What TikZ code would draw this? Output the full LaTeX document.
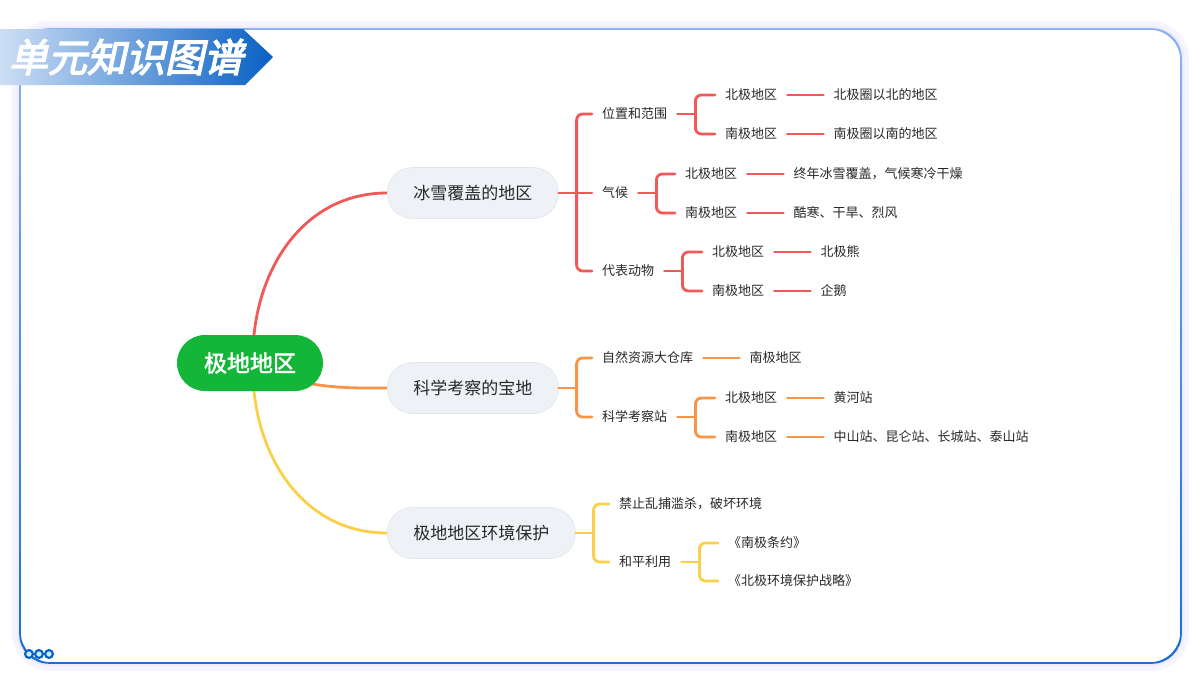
\documentclass[tikz,border=0pt]{standalone}
\usepackage{fontspec}
\newfontfamily\cjk{Noto Sans CJK SC}
\newfontfamily\cjkb{Noto Sans CJK SC}[FakeBold=2]
\newfontfamily\cjkt{Noto Sans CJK SC}[FakeBold=3.5,FakeSlant=0.22]
\usepackage{xcolor}
\usetikzlibrary{calc,positioning,backgrounds}

\definecolor{txt}{RGB}{40,40,40}
\definecolor{cred}{RGB}{242,88,88}
\definecolor{corg}{RGB}{247,148,72}
\definecolor{cyel}{RGB}{250,208,72}
\definecolor{rootgr}{RGB}{20,182,58}
\definecolor{topicbg}{RGB}{238,241,245}
\definecolor{topicln}{RGB}{226,229,234}
\definecolor{frtop}{RGB}{140,178,240}
\definecolor{frbot}{RGB}{25,110,210}
\definecolor{bnl}{RGB}{205,222,244}
\definecolor{bnr}{RGB}{8,96,196}
\definecolor{dotln}{RGB}{10,100,200}
\definecolor{dotfill}{RGB}{205,240,240}
\definecolor{glow}{RGB}{238,236,255}

% bracket from a parent to its children
\newcommand\forkto[3]{%
  \coordinate (#2-j) at ($(#2.east)+(18,0)$);
  \draw[link,#1] (#2.east) -- (#2-j);
  \foreach \c in {#3} \draw[fork,#1] (#2-j) |- (\c.west);
}

\begin{document}
\begin{tikzpicture}[
    x=1pt,
    y=-1pt,
    every node/.style={font=\cjk\fontsize{13}{15}\selectfont, text=txt},
    lbl/.style={anchor=west, inner xsep=10pt, inner ysep=1pt,
        text height=11.4pt, text depth=1.6pt},
    topic/.style={anchor=west, fill=topicbg, draw=topicln, line width=0.6pt,
        rounded corners=25pt, minimum height=51pt, inner xsep=26pt,
        font=\cjk\fontsize{17}{20}\selectfont, text=txt,
        text height=15pt, text depth=2pt},
    rootbox/.style={fill=rootgr, rounded corners=28pt, minimum height=56pt,
        inner xsep=27pt, font=\cjkb\fontsize{23}{26}\selectfont, text=white,
        text height=20.2pt, text depth=2.8pt},
    link/.style={line width=2.8pt, line cap=round},
    fork/.style={link, rounded corners=6pt}
]
\useasboundingbox (0,0) rectangle (1200,675);

% Frame
\begin{scope}[on background layer]
\fill[white] (0,0) rectangle (1200,675);
\draw[glow, opacity=0.5, line width=16pt, rounded corners=30pt] (20,29) rectangle (1181,663);
\draw[glow, line width=7pt, rounded corners=30pt] (20,29) rectangle (1181,663);
\fill[white, rounded corners=30pt] (20,29) rectangle (1181,663);
\shade[top color=frtop, bottom color=frbot, even odd rule, rounded corners=30pt]
    (19.2,28.2) rectangle (1181.8,663.8)
    (20.8,29.8) rectangle (1180.2,662.2);
\end{scope}

% Title banner
\shade[left color=bnl, right color=bnr]
    (0,29) -- (243,29) -- (273,57) -- (245,85) -- (0,85) -- cycle;
\node[font=\cjkt\fontsize{39}{41}\selectfont, text=white, inner sep=0pt]
    (title) at (126,57) {单元知识图谱};

% Dots
\foreach \cx in {29,39,49}
    \draw[dotln, fill=dotfill, line width=2.2pt] (\cx,654) circle (3.9pt);

% Root and topics
\node[rootbox] (root) at (250,363) {极地地区};
\node[topic] (ice) at (387,193) {冰雪覆盖的地区};
\node[topic] (sci) at (387,388) {科学考察的宝地};
\node[topic] (env) at (387,533) {极地地区环境保护};

% Branch 1
\node[lbl] (i1) at (592,114) {位置和范围};
\node[lbl] (i2) at (592,193) {气候};
\node[lbl] (i3) at (592,271) {代表动物};
\node[lbl] (i11) at (715,95) {北极地区};
\node[lbl] (i12) at (715,134) {南极地区};
\node[lbl] (i21) at (675,174) {北极地区};
\node[lbl] (i22) at (675,213) {南极地区};
\node[lbl] (i31) at (702,252) {北极地区};
\node[lbl] (i32) at (702,291) {南极地区};
\node[lbl, right=36pt of i11] (i11a) {北极圈以北的地区};
\node[lbl, right=36pt of i12] (i12a) {南极圈以南的地区};
\node[lbl, right=36pt of i21] (i21a) {终年冰雪覆盖，气候寒冷干燥};
\node[lbl, right=36pt of i22] (i22a) {酷寒、干旱、烈风};
\node[lbl, right=36pt of i31] (i31a) {北极熊};
\node[lbl, right=36pt of i32] (i32a) {企鹅};

% Branch 2
\node[lbl] (s1) at (592,358) {自然资源大仓库};
\node[lbl] (s2) at (592,417) {科学考察站};
\node[lbl] (s21) at (715,398) {北极地区};
\node[lbl] (s22) at (715,437) {南极地区};
\node[lbl, right=36pt of s1] (s1a) {南极地区};
\node[lbl, right=36pt of s21] (s21a) {黄河站};
\node[lbl, right=36pt of s22] (s22a) {中山站、昆仑站、长城站、泰山站};

% Branch 3
\node[lbl] (e1) at (609,504) {禁止乱捕滥杀，破坏环境};
\node[lbl] (e2) at (609,562) {和平利用};
\node[lbl] (e21) at (718,543) {《南极条约》};
\node[lbl] (e22) at (718,581) {《北极环境保护战略》};

% Connectors
\begin{scope}[on background layer]
\draw[link, cred] ([xshift=4pt]root.north)
    .. controls (262,258) and (310,193) .. (ice.west);
\draw[link, corg] (root.center)
    .. controls (300,390) and (350,388) .. (sci.west);
\draw[link, cyel] ([xshift=4pt]root.south)
    .. controls (262,468) and (310,533) .. (env.west);
\end{scope}

\forkto{cred}{ice}{i1,i3}
\draw[link, cred] (ice-j) -- (i2.west);
\forkto{cred}{i1}{i11,i12}
\forkto{cred}{i2}{i21,i22}
\forkto{cred}{i3}{i31,i32}
\foreach \a in {i11,i12,i21,i22,i31,i32}
    \draw[link, cred] (\a.east) -- (\a a.west);

\forkto{corg}{sci}{s1,s2}
\forkto{corg}{s2}{s21,s22}
\foreach \a in {s1,s21,s22}
    \draw[link, corg] (\a.east) -- (\a a.west);

\forkto{cyel}{env}{e1,e2}
\forkto{cyel}{e2}{e21,e22}

\end{tikzpicture}
\end{document}
